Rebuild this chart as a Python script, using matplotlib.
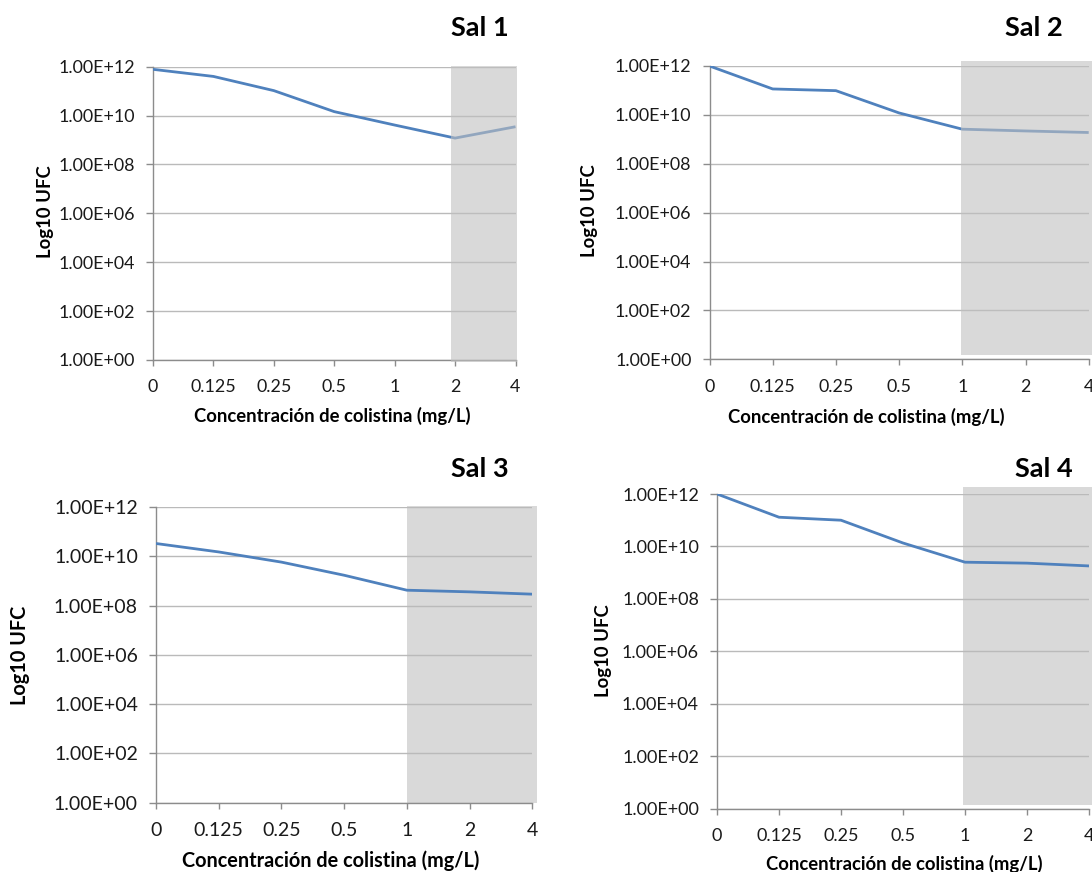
import matplotlib
matplotlib.use("Agg")
import matplotlib.pyplot as plt
from matplotlib.ticker import FixedLocator, FixedFormatter, NullLocator

plt.rcParams['font.family'] = ['Lato', 'DejaVu Sans']

# ---- data ----
categories = ["0", "0.125", "0.25", "0.5", "1", "2", "4"]
sal1 = [7.8e11, 4.0e11, 1.05e11, 1.45e10, 4.1e9, 1.2e9, 3.5e9]
sal2 = [1.0e12, 1.15e11, 9.8e10, 1.2e10, 2.6e9, 2.2e9, 1.9e9]
sal3 = [3.3e10, 1.5e10, 5.8e9, 1.7e9, 4.2e8, 3.6e8, 2.9e8]
sal4 = [1.0e12, 1.3e11, 1.0e11, 1.35e10, 2.5e9, 2.3e9, 1.8e9]
titles = ["Sal 1", "Sal 2", "Sal 3", "Sal 4"]
shade_from = ["2", "1", "1", "1"]          # category where the grey zone starts
ytick_vals = [1e0, 1e2, 1e4, 1e6, 1e8, 1e10, 1e12]
ytick_labels = ["1.00E+00", "1.00E+02", "1.00E+04", "1.00E+06",
                "1.00E+08", "1.00E+10", "1.00E+12"]
xlabel = "Concentración de colistina (mg/L)"
ylabel = "Log10 UFC"
series = [sal1, sal2, sal3, sal4]

# ---- layout (pixels) ----
W, H = 1092, 872
layout = [
    dict(x0=153, x6=515.5, yt=66.7, yb=360, ft=12.9, fl=13.3,
         sx=(-0.07, 6.02), sy=(-0.006, 1.003), over=True,
         title=(480, 28), xl=(332, 416), yl=(45, 212)),
    dict(x0=709.5, x6=1088.7, yt=66, yb=359.3, ft=12.9, fl=13.3,
         sx=(-0.02, 6.3), sy=(0.015, 1.018), over=True,
         title=(1034, 28), xl=(866, 417), yl=(589, 211)),
    dict(x0=156, x6=532.3, yt=507, yb=802.7, ft=14.0, fl=14.3,
         sx=(0.0, 6.07), sy=(0.0, 1.003), over=False,
         title=(480, 469), xl=(331, 861), yl=(20, 655)),
    dict(x0=717, x6=1089, yt=494, yb=808.5, ft=13.0, fl=13.3,
         sx=(-0.04, 6.3), sy=(0.012, 1.022), over=False,
         title=(1044, 469), xl=(904, 864), yl=(604, 651)),
]

fig = plt.figure(figsize=(W / 100, H / 100), dpi=100)
fig.patch.set_facecolor("white")

blue = "#4F81BD"
grid_c = "#BABABA"
axis_c = "#8C8C8C"

for vals, ttl, sf, L in zip(series, titles, shade_from, layout):
    ax = fig.add_axes([L["x0"] / W, 1 - L["yb"] / H,
                       (L["x6"] - L["x0"]) / W, (L["yb"] - L["yt"]) / H])
    xs = list(range(len(categories)))
    ax.set_yscale("log")
    ax.set_xlim(0, len(categories) - 1)
    ax.set_ylim(1e0, 1e12)
    ax.yaxis.set_major_locator(FixedLocator(ytick_vals))
    ax.yaxis.set_major_formatter(FixedFormatter(ytick_labels))
    ax.yaxis.set_minor_locator(NullLocator())
    ax.set_xticks(xs)
    ax.set_xticklabels(categories)
    ax.grid(axis="y", color=grid_c, lw=1.0, zorder=1)
    for s in ["top", "right"]:
        ax.spines[s].set_visible(False)
    for s in ["left", "bottom"]:
        ax.spines[s].set_color(axis_c)
        ax.spines[s].set_linewidth(1.0)
    ax.tick_params(axis="x", colors=axis_c, length=4, width=1.0,
                   labelcolor="#1a1a1a", labelsize=L["ft"], pad=10)
    ax.tick_params(axis="y", colors=axis_c, length=5, width=1.0,
                   labelcolor="#1a1a1a", labelsize=L["ft"], pad=8)

    i0 = categories.index(sf)
    lo = i0 + L["sx"][0]
    hi = L["sx"][1]
    if L["over"]:
        ax.plot(xs, vals, color=blue, lw=2.0, zorder=3, solid_capstyle="butt")
        ax.axvspan(lo, hi, ymin=L["sy"][0], ymax=L["sy"][1],
                   color="#C0C0C0", alpha=0.6, lw=0, zorder=4, clip_on=False)
    else:
        ax.axvspan(lo, hi, ymin=L["sy"][0], ymax=L["sy"][1],
                   color="#D9D9D9", lw=0, zorder=0.5, clip_on=False)
        ax.plot(xs, vals, color=blue, lw=2.0, zorder=3, solid_capstyle="butt")
    ax.set_facecolor("none")

    fig.text(L["title"][0] / W, 1 - L["title"][1] / H, ttl,
             ha="center", va="center", fontsize=19.5, fontweight="bold")
    fig.text(L["xl"][0] / W, 1 - L["xl"][1] / H, xlabel,
             ha="center", va="center", fontsize=L["fl"], fontweight="bold")
    fig.text(L["yl"][0] / W, 1 - L["yl"][1] / H, ylabel, rotation=90,
             ha="center", va="center", fontsize=L["fl"], fontweight="bold")

fig.savefig("out.png", dpi=100, facecolor="white")
